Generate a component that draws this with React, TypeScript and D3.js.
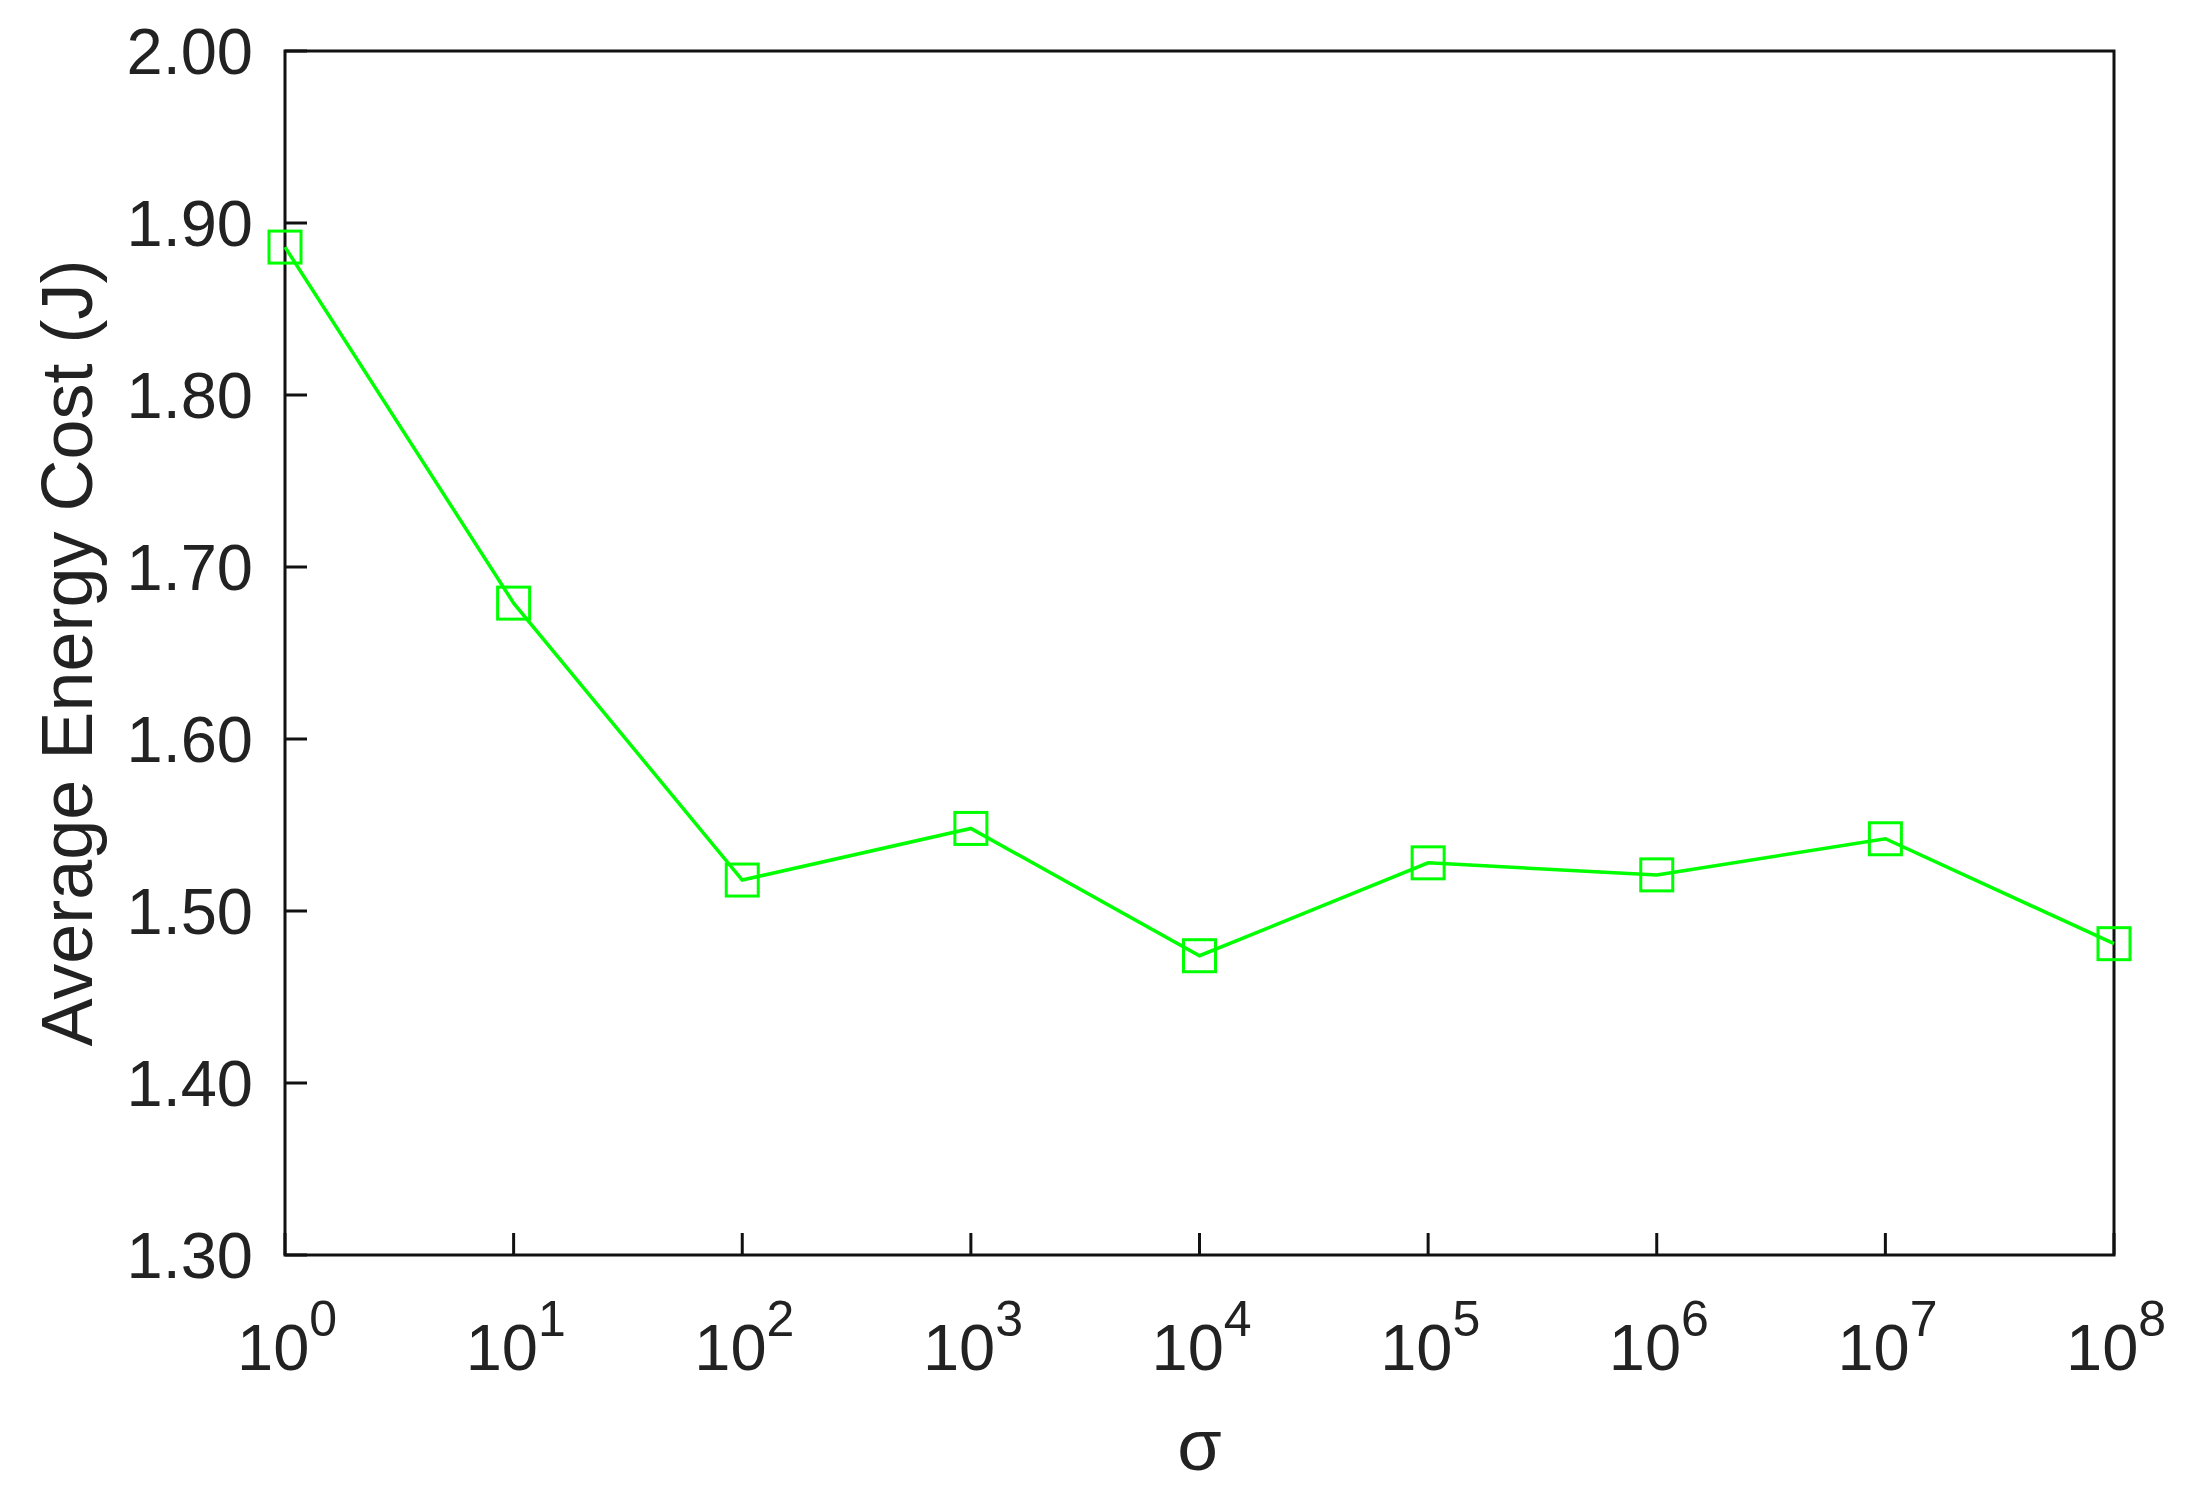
import React, { useRef, useEffect } from "react";
import * as d3 from "d3";

const sigmaValues = [1e0, 1e1, 1e2, 1e3, 1e4, 1e5, 1e6, 1e7, 1e8];
const energyCost = [1.886, 1.679, 1.518, 1.548, 1.474, 1.528, 1.521, 1.542, 1.481];
const yTicks = [1.3, 1.4, 1.5, 1.6, 1.7, 1.8, 1.9, 2.0];
const xTickExponents = [0, 1, 2, 3, 4, 5, 6, 7, 8];

const App = () => {
  const d3Container = useRef<SVGSVGElement | null>(null);

  useEffect(() => {
    if (!d3Container.current) return;
    const svg = d3.select(d3Container.current);
    svg.selectAll("*").remove();

    const W = 2204;
    const H = 1488;
    const margin = { top: 51, right: 90, bottom: 233, left: 285 };
    const width = W - margin.left - margin.right;
    const height = H - margin.top - margin.bottom;
    const font = "Liberation Sans, Arial, Helvetica, sans-serif";

    const x = d3.scaleLog().domain([1, 1e8]).range([0, width]);
    const y = d3.scaleLinear().domain([1.3, 2.0]).range([height, 0]);

    const g = svg
      .append("g")
      .attr("transform", `translate(${margin.left},${margin.top})`);

    // frame
    g.append("rect")
      .attr("width", width)
      .attr("height", height)
      .attr("fill", "none")
      .attr("stroke", "#111")
      .attr("stroke-width", 3);

    // y ticks (inward) + labels
    g.selectAll(".ytick")
      .data(yTicks)
      .enter()
      .append("line")
      .attr("x1", 0)
      .attr("x2", 22)
      .attr("y1", (d) => y(d))
      .attr("y2", (d) => y(d))
      .attr("stroke", "#111")
      .attr("stroke-width", 3);

    g.selectAll(".ylabel")
      .data(yTicks)
      .enter()
      .append("text")
      .attr("x", -32)
      .attr("y", (d) => y(d))
      .attr("dy", "0.36em")
      .attr("text-anchor", "end")
      .style("font-family", font)
      .style("font-size", "65px")
      .attr("fill", "#222")
      .text((d) => d3.format(".2f")(d));

    // x ticks (inward) + labels
    g.selectAll(".xtick")
      .data(xTickExponents)
      .enter()
      .append("line")
      .attr("x1", (d) => x(Math.pow(10, d)))
      .attr("x2", (d) => x(Math.pow(10, d)))
      .attr("y1", height)
      .attr("y2", height - 22)
      .attr("stroke", "#111")
      .attr("stroke-width", 3);

    const xl = g
      .selectAll(".xlabel")
      .data(xTickExponents)
      .enter()
      .append("text")
      .attr("x", (d) => x(Math.pow(10, d)) - 48)
      .attr("y", height + 115)
      .style("font-family", font)
      .style("font-size", "65px")
      .attr("fill", "#222");
    xl.append("tspan").text("10");
    xl.append("tspan")
      .attr("dx", 0)
      .attr("dy", -34)
      .style("font-size", "50px")
      .text((d) => String(d));

    // axis titles
    g.append("text")
      .attr("x", width / 2)
      .attr("y", height + 215)
      .attr("text-anchor", "middle")
      .style("font-family", font)
      .style("font-size", "72px")
      .attr("fill", "#222")
      .text("σ");

    g.append("text")
      .attr("transform", `translate(${92 - margin.left},${height / 2}) rotate(-90)`)
      .attr("text-anchor", "middle")
      .style("font-family", font)
      .style("font-size", "72px")
      .attr("fill", "#222")
      .text("Average Energy Cost (J)");

    const pts = sigmaValues.map((s, i) => [x(s), y(energyCost[i])] as [number, number]);

    g.append("path")
      .attr("d", d3.line()(pts))
      .attr("fill", "none")
      .attr("stroke", "#00ff00")
      .attr("stroke-width", 3.5);

    const m = 32;
    g.selectAll(".marker")
      .data(pts)
      .enter()
      .append("rect")
      .attr("x", (d) => d[0] - m / 2)
      .attr("y", (d) => d[1] - m / 2)
      .attr("width", m)
      .attr("height", m)
      .attr("fill", "none")
      .attr("stroke", "#00ff00")
      .attr("stroke-width", 3);
  }, []);

  return (
    <svg
      ref={d3Container}
      width={2204}
      height={1488}
      style={{ position: "absolute", left: 0, top: 0, background: "#fff" }}
    />
  );
};

export default App;
